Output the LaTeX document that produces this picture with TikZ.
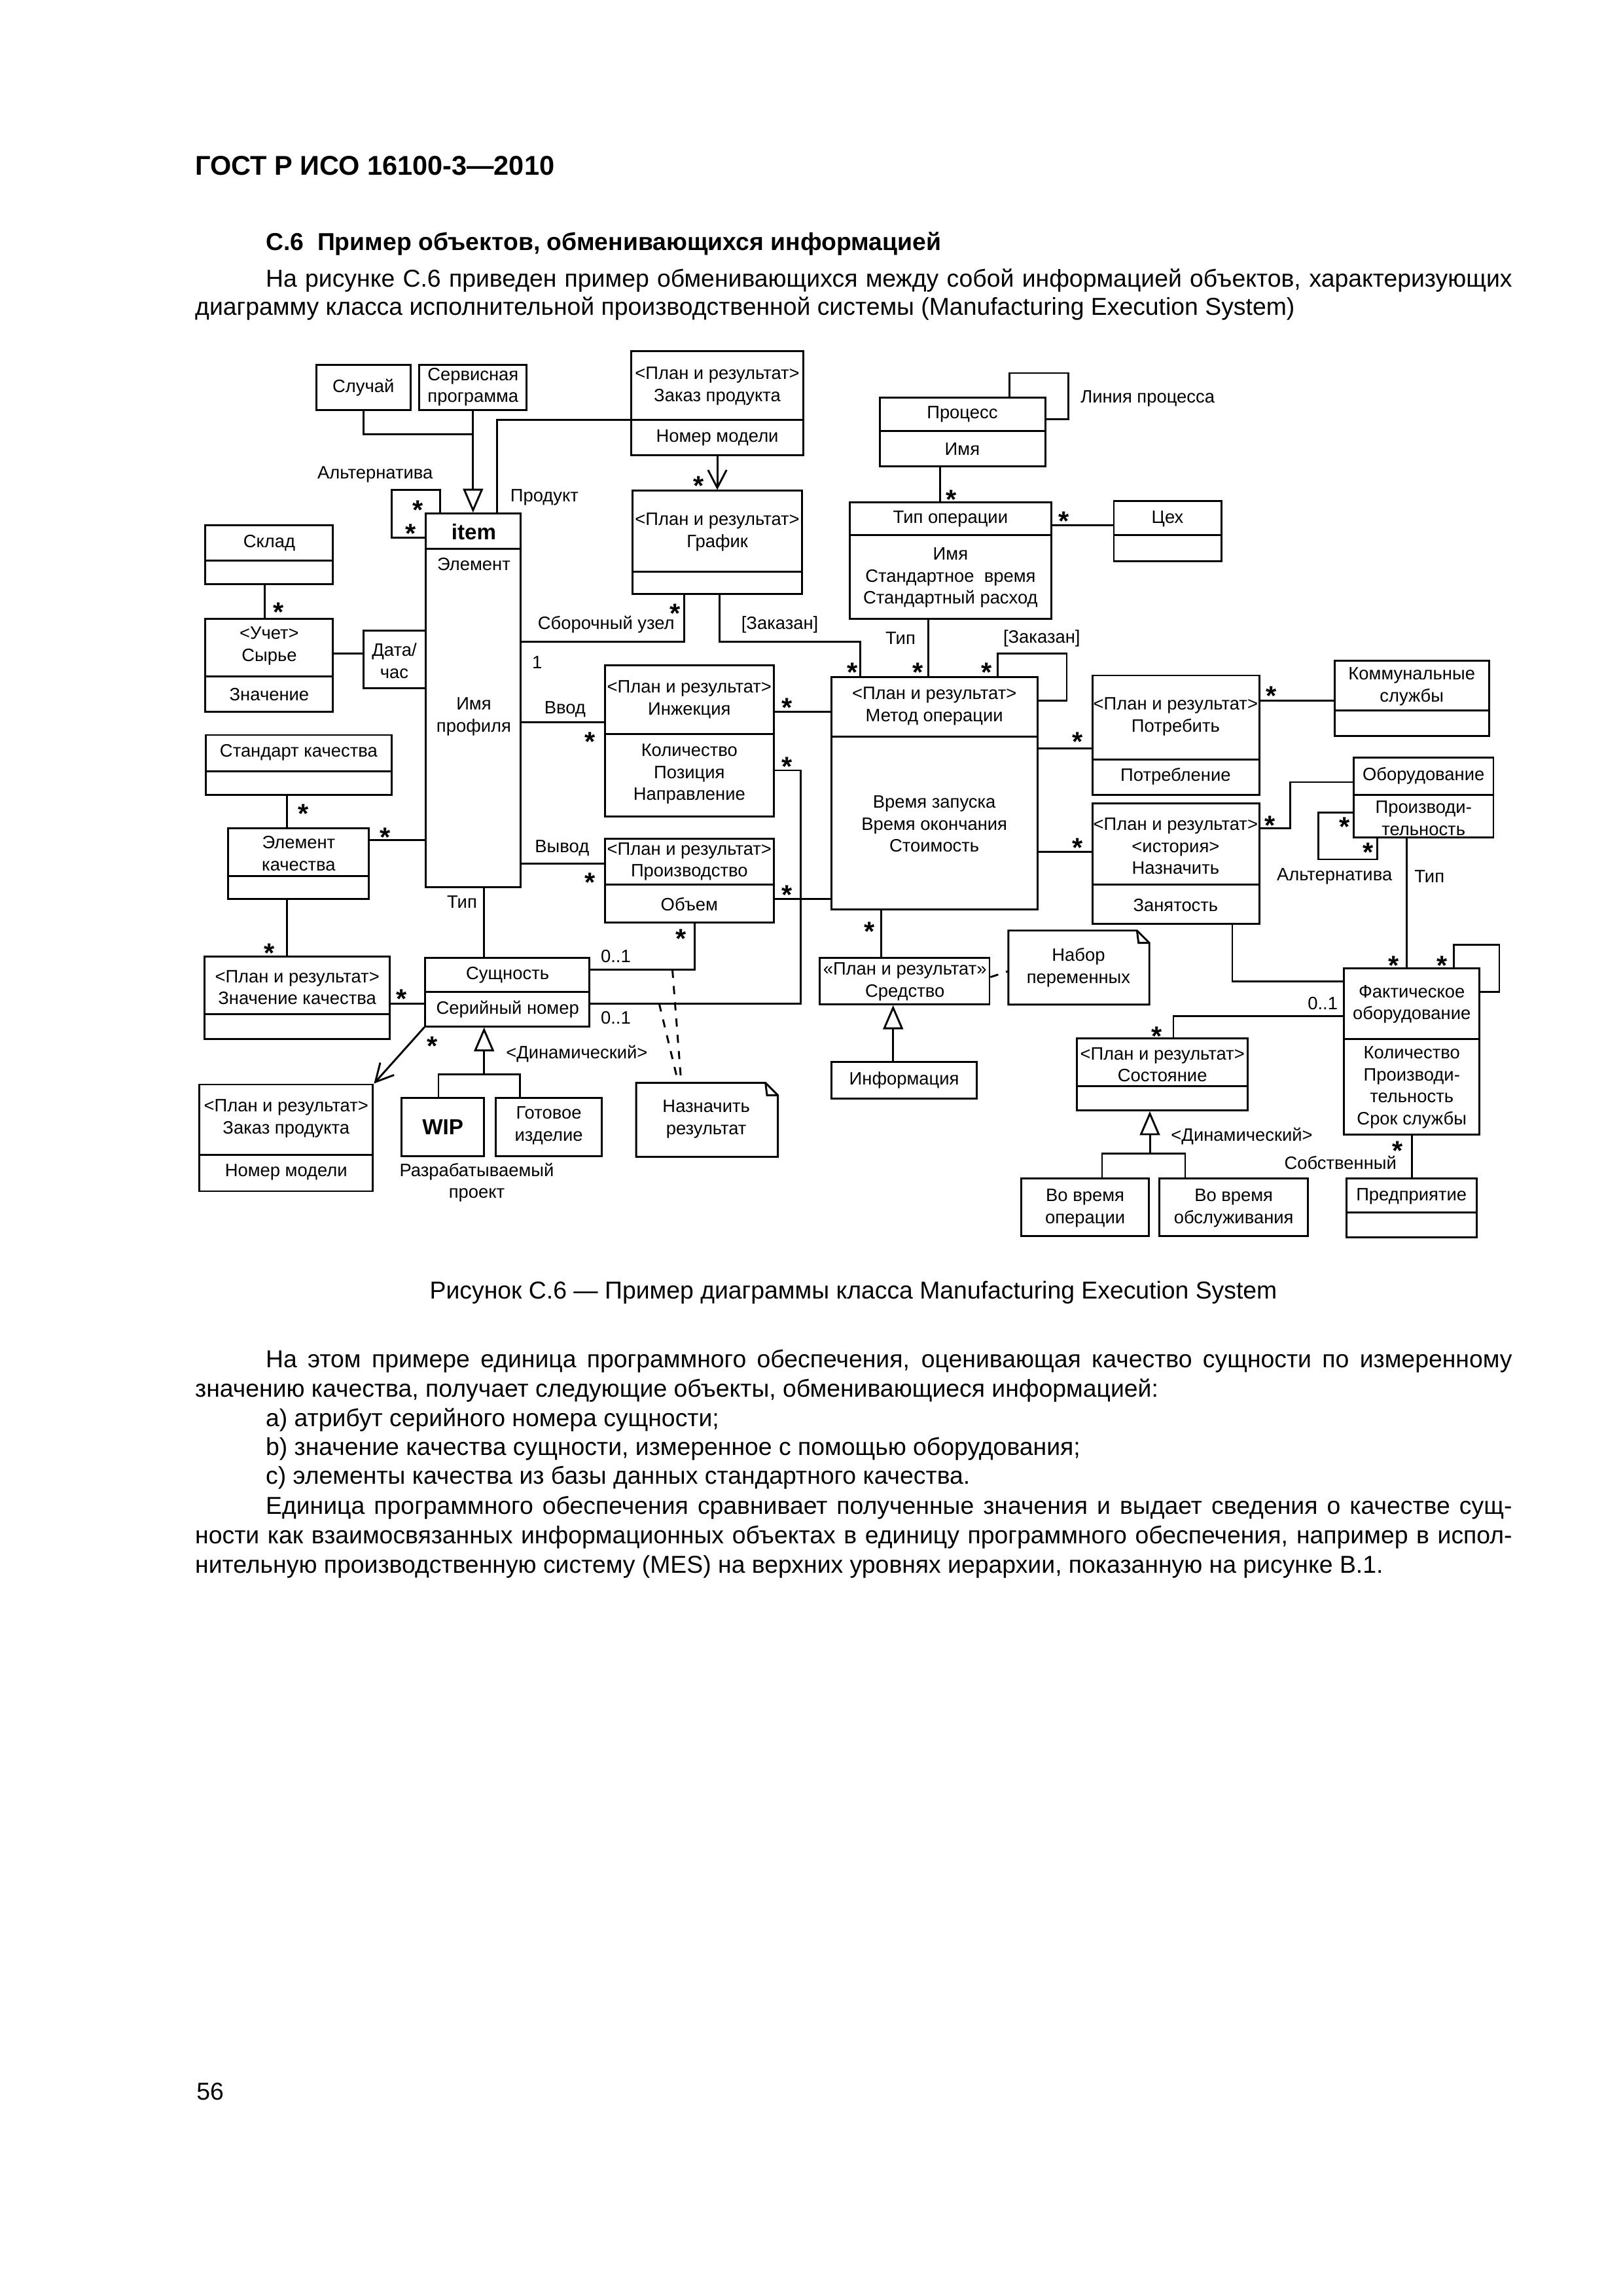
\documentclass[tikz,border=0pt]{standalone}
\usepackage{fontspec}
\setmainfont{Liberation Sans}
\usetikzlibrary{arrows.meta,fit}
\newcommand{\dfont}{\fontsize{6.6}{8.1}\selectfont}
\newcommand{\mfont}{\fontsize{10}{10}\selectfont\bfseries}
\newcommand{\pfont}{\fontsize{9}{11}\selectfont}
\newcommand{\mstar}{\raisebox{-0.42em}[0.28em][0pt]{*}}

\begin{document}
\begin{tikzpicture}[x=0.19039mm,y=-0.19039mm,
            line width=0.7pt,
            box/.style={draw,inner sep=0pt},
            txt/.style={font=\dfont,inner sep=0pt,align=center},
            mult/.style={font=\mfont,inner sep=0pt},
            gen/.style={-{Triangle[open,length=3.1mm,width=2.6mm]}},
            nav/.style={-{Straight Barb[length=2.3mm,width=2.4mm]}},
            pg/.style={font=\pfont,inner sep=0pt,anchor=base west}
            ]
\useasboundingbox (0,0) rectangle (1103,1560.3);

\node[pg,font=\fontsize{10}{12}\selectfont\bfseries] (gost) at (132,119) {ГОСТ Р ИСО 16100-3—2010};
\node[pg,font=\pfont\bfseries] (sec) at (180,170) {С.6\ \ Пример объектов, обменивающихся информацией};
\node[pg] (p1) at (180,195) {\makebox[161.26mm][s]{На рисунке С.6 приведен пример обменивающихся между собой информацией объектов, характеризующих}};
\node[pg] (p2) at (132,214) {диаграмму класса исполнительной производственной системы (Manufacturing Execution System)};

\node[box,fit={(215,248) (279,278.5)}] (sluchaj) {};
\node[txt] (sluchaj-t) at (247,263.5) {Случай};
\node[box,fit={(285,248) (358,278.5)}] (servis) {};
\node[txt] (servis-t) at (321.5,263) {Сервисная\\программа};

\node[box,fit={(429,238.5) (546,309.5)}] (zakaz) {};
\draw (zakaz.west |- 0,285.5) -- (zakaz.east |- 0,285.5);
\node[txt] (zakaz-t) at (487.5,262.5) {<План и результат>\\Заказ продукта};
\node[txt] (zakaz-a) at (487.5,297.5) {Номер модели};

\node[box,fit={(430,333.5) (545,403.5)}] (grafik) {};
\draw (grafik.west |- 0,388.5) -- (grafik.east |- 0,388.5);
\node[txt] (grafik-t) at (487.5,361.5) {<План и результат>\\График};

\node[box,fit={(289.5,349) (354,603)}] (item) {};
\draw (item.west |- 0,373) -- (item.east |- 0,373);
\node[txt,font=\fontsize{8}{9}\selectfont\bfseries] (item-t) at (322,361.5) {item};
\node[txt] (item-a) at (322,383.5) {Элемент};
\node[txt] (item-b) at (322,487) {Имя\\профиля};

\node[box,fit={(139.5,357) (226,397)}] (sklad) {};
\draw (sklad.west |- 0,381) -- (sklad.east |- 0,381);
\node[txt] (sklad-t) at (183,369) {Склад};
\node[box,fit={(139.5,420.5) (226,483.5)}] (uchet) {};
\draw (uchet.west |- 0,459.5) -- (uchet.east |- 0,459.5);
\node[txt] (uchet-t) at (183,439) {<Учет>\\Сырье};
\node[txt] (uchet-a) at (183,472) {Значение};
\node[box,fit={(247,428.5) (289.5,467.5)}] (datach) {};
\node[txt] (datach-t) at (268,449) {Дата/\\час};

\node[box,fit={(140,499.5) (266,540)}] (stdkach) {};
\draw (stdkach.west |- 0,524) -- (stdkach.east |- 0,524);
\node[txt] (stdkach-t) at (203,511.5) {Стандарт качества};
\node[box,fit={(155,563) (250.5,611)}] (elkach) {};
\draw (elkach.west |- 0,595.5) -- (elkach.east |- 0,595.5);
\node[txt] (elkach-t) at (203,580) {Элемент\\качества};
\node[box,fit={(139,650) (265,706)}] (znkach) {};
\draw (znkach.west |- 0,689) -- (znkach.east |- 0,689);
\node[txt] (znkach-t) at (202,671) {<План и результат>\\Значение качества};
\node[box,fit={(135.5,737) (253.5,809.5)}] (zakaz2) {};
\draw (zakaz2.west |- 0,785) -- (zakaz2.east |- 0,785);
\node[txt] (zakaz2-t) at (194.5,760) {<План и результат>\\Заказ продукта};
\node[txt] (zakaz2-a) at (194.5,796.5) {Номер модели};

\node[box,fit={(289,651) (400.5,697.5)}] (sushch) {};
\draw (sushch.west |- 0,674) -- (sushch.east |- 0,674);
\node[txt] (sushch-t) at (345,662.5) {Сущность};
\node[txt] (sushch-a) at (345,686) {Серийный номер};
\node[box,fit={(273,746) (329,785.5)}] (wip) {};
\node[txt,font=\fontsize{8}{9}\selectfont\bfseries] (wip-t) at (301,766) {WIP};
\node[box,fit={(337,746) (409,785.5)}] (gotov) {};
\node[txt] (gotov-t) at (373,765) {Готовое\\изделие};
\node[txt] (razr) at (324,803.5) {Разрабатываемый\\проект};

\node[inner sep=0pt,fit={(433,736.5) (528,785.5)}] (nazres) {};
\draw (nazres.north west) -- ([xshift=-1.6mm]nazres.north east) -- ([yshift=-1.6mm]nazres.north east) -- (nazres.south east) -- (nazres.south west) -- cycle;
\draw ([xshift=-1.6mm]nazres.north east) -- ([xshift=-1.4mm,yshift=-1.6mm]nazres.north east) -- ([yshift=-1.6mm]nazres.north east);
\node[txt] (nazres-t) at (480,760.5) {Назначить\\результат};

\node[box,fit={(411,452) (526,555)}] (inj) {};
\draw (inj.west |- 0,499) -- (inj.east |- 0,499);
\node[txt] (inj-t) at (468.5,475.5) {<План и результат>\\Инжекция};
\node[txt] (inj-a) at (468.5,526) {Количество\\Позиция\\Направление};
\node[box,fit={(411,570) (526,627)}] (proizv) {};
\draw (proizv.west |- 0,601) -- (proizv.east |- 0,601);
\node[txt] (proizv-t) at (468.5,585.5) {<План и результат>\\Производство};
\node[txt] (proizv-a) at (468.5,614.5) {Объем};

\node[box,fit={(598,270) (710.5,317)}] (protsess) {};
\draw (protsess.west |- 0,293) -- (protsess.east |- 0,293);
\node[txt] (protsess-t) at (654,281.5) {Процесс};
\node[txt] (protsess-a) at (654,305) {Имя};
\node[box,fit={(577.5,341.5) (714.5,420.5)}] (tipop) {};
\draw (tipop.west |- 0,363.5) -- (tipop.east |- 0,363.5);
\node[txt] (tipop-t) at (646,352.5) {Тип операции};
\node[txt] (tipop-a) at (646,392.5) {Имя\\Стандартное\ \ время\\Стандартный расход};
\node[box,fit={(757,340.5) (830,381.5)}] (tsekh) {};
\draw (tsekh.west |- 0,363.5) -- (tsekh.east |- 0,363.5);
\node[txt] (tsekh-t) at (793.5,352.5) {Цех};

\node[box,fit={(565,460) (705,618)}] (metod) {};
\draw (metod.west |- 0,500.5) -- (metod.east |- 0,500.5);
\node[txt] (metod-t) at (635,480) {<План и результат>\\Метод операции};
\node[txt] (metod-a) at (635,560) {Время запуска\\Время окончания\\Стоимость};
\node[box,fit={(557,651) (672.5,682.5)}] (sredstvo) {};
\node[txt] (sredstvo-t) at (615,667) {«План и результат»\\Средство};
\node[box,fit={(565,721.5) (664,746.5)}] (info) {};
\node[txt] (info-t) at (614.5,734) {Информация};

\node[inner sep=0pt,fit={(686,633) (780.5,682)}] (nabor) {};
\draw (nabor.north west) -- ([xshift=-1.6mm]nabor.north east) -- ([yshift=-1.6mm]nabor.north east) -- (nabor.south east) -- (nabor.south west) -- cycle;
\draw ([xshift=-1.6mm]nabor.north east) -- ([xshift=-1.4mm,yshift=-1.6mm]nabor.north east) -- ([yshift=-1.6mm]nabor.north east);
\node[txt] (nabor-t) at (733,657.5) {Набор\\переменных};

\node[box,fit={(742.5,459) (856,540)}] (potr) {};
\draw (potr.west |- 0,516) -- (potr.east |- 0,516);
\node[txt] (potr-t) at (799,487) {<План и результат>\\Потребить};
\node[txt] (potr-a) at (799,527.5) {Потребление};
\node[box,fit={(907,449) (1012,500)}] (komm) {};
\draw (komm.west |- 0,483) -- (komm.east |- 0,483);
\node[txt] (komm-t) at (959.5,466.5) {Коммунальные\\службы};
\node[box,fit={(742.5,546) (856,628)}] (naz) {};
\draw (naz.west |- 0,601) -- (naz.east |- 0,601);
\node[txt] (naz-t) at (799,575) {<План и результат>\\<история>\\Назначить};
\node[txt] (naz-a) at (799,615) {Занятость};
\node[box,fit={(920,515) (1015,569)}] (obor) {};
\draw (obor.west |- 0,540) -- (obor.east |- 0,540);
\node[txt] (obor-t) at (967.5,527) {Оборудование};
\node[txt] (obor-a) at (967.5,556) {Производи-\\тельность};

\node[box,fit={(913.5,658) (1005.5,771)}] (fakt) {};
\draw (fakt.west |- 0,706) -- (fakt.east |- 0,706);
\node[txt] (fakt-t) at (959.5,682.5) {Фактическое\\оборудование};
\node[txt] (fakt-a) at (959.5,739) {Количество\\Производи-\\тельность\\Срок службы};
\node[box,fit={(732,705.5) (848,754.5)}] (sost) {};
\draw (sost.west |- 0,738) -- (sost.east |- 0,738);
\node[txt] (sost-t) at (790,723.5) {<План и результат>\\Состояние};
\node[box,fit={(694,801) (781,840)}] (vovr1) {};
\node[txt] (vovr1-t) at (737.5,821) {Во время\\операции};
\node[box,fit={(788,801) (889,840)}] (vovr2) {};
\node[txt] (vovr2-t) at (838.5,821) {Во время\\обслуживания};
\node[box,fit={(915,801) (1003.5,841)}] (predp) {};
\draw (predp.west |- 0,824) -- (predp.east |- 0,824);
\node[txt] (predp-t) at (959.25,813) {Предприятие};

\draw (sluchaj.south) |- (servis.south |- 0,295);
\draw[gen] (servis.south) -- (servis.south |- item.north);
\draw (zakaz.west |- 0,285.5) -| (item.north -| 338,0);
\draw (item.north -| 299,0) |- (266,333) |- (item.west |- 0,365.5);
\draw[nav] (zakaz.south) -- (grafik.north);
\draw (grafik.south -| 465,0) |- (item.east |- 0,436);
\draw (grafik.south -| 489,0) |- (584.5,436) -- (metod.north -| 584.5,0);
\draw (sklad.south -| 180,0) -- (uchet.north -| 180,0);
\draw (uchet.east |- 0,444) -- (datach.west |- 0,444);
\draw (item.east |- 0,491) -- (inj.west |- 0,491);
\draw (item.east |- 0,587) -- (proizv.west |- 0,587);
\draw (inj.east |- 0,483.5) -- (metod.west |- 0,483.5);
\draw (inj.east |- 0,523.5) -| (544,682) -- (sushch.east |- 0,682);
\draw (proizv.east |- 0,611) -- (metod.west |- 0,611);
\draw (proizv.south -| 472,0) |- (sushch.east |- 0,659);
\draw (stdkach.south -| 195,0) -- (elkach.north -| 195,0);
\draw (elkach.east |- 0,571) -- (item.west |- 0,571);
\draw (elkach.south -| 195,0) -- (znkach.north -| 195,0);
\draw (znkach.east |- 0,682) -- (sushch.west |- 0,682);
\draw (item.south -| 329,0) -- (sushch.north -| 329,0);
\draw[nav] (sushch.south west) -- (zakaz2.north east);
\draw[gen] (329,730) -- (sushch.south -| 329,0);
\draw (wip.north -| 298,0) |- (329,730) -| (gotov.north -| 353.5,0);
\coordinate (d1) at (457,659);
\coordinate (d2) at (448,682);
\draw[dashed] (d1) -- (nazres.north -| 463,0);
\draw[dashed] (d2) -- (nazres.north -| 461,0);
\draw (protsess.north -| 686,0) |- (726,253.5) |- (protsess.east |- 0,285);
\draw (protsess.south -| 639,0) -- (tipop.north -| 639,0);
\draw (tipop.east |- 0,357) -- (tsekh.west |- 0,357);
\draw (tipop.south -| 631,0) -- (metod.north -| 631,0);
\draw (metod.north -| 678,0) |- (725,444) |- (metod.east |- 0,476);
\draw (metod.east |- 0,508.5) -- (potr.west |- 0,508.5);
\draw (metod.east |- 0,579) -- (naz.west |- 0,579);
\draw (potr.east |- 0,476) -- (komm.west |- 0,476);
\draw (naz.east |- 0,563) -| (877,531.5) -- (obor.west |- 0,531.5);
\draw (obor.west |- 0,552) -| (896,584) -| (obor.south -| 936,0);
\draw (obor.south -| 956,0) -- (fakt.north -| 956,0);
\draw (fakt.north -| 988,0) |- (1019,642) |- (fakt.east |- 0,674);
\draw (naz.south -| 837.5,0) |- (fakt.west |- 0,667);
\draw (fakt.west |- 0,690.5) -| (sost.north -| 797.5,0);
\draw[gen] (781.5,784) -- (sost.south -| 781.5,0);
\draw (vovr1.north -| 749,0) |- (781.5,784) -| (vovr2.north -| 805.5,0);
\draw (fakt.south -| 959.5,0) -- (predp.north -| 959.5,0);
\draw (metod.south -| 599,0) -- (sredstvo.north -| 599,0);
\draw[gen] (info.north -| 607,0) -- (sredstvo.south -| 607,0);
\draw[dashed] (sredstvo.east |- 0,664) -- (nabor.west |- 0,660);

\node[txt] (alt1) at (255,322.5) {Альтернатива};
\node[txt] (prod) at (370,338) {Продукт};
\node[txt] (sbor) at (412,424.5) {Сборочный узел};
\node[txt] (one) at (365,450) {1};
\node[txt] (zak1) at (530,424.5) {[Заказан]};
\node[txt] (linproc) at (780,271) {Линия процесса};
\node[txt] (tip1) at (612,433.5) {Тип};
\node[txt] (zak2) at (708,434) {[Заказан]};
\node[txt] (vvod) at (384,482) {Ввод};
\node[txt] (vyvod) at (382,576.5) {Вывод};
\node[txt] (tip2) at (314,613) {Тип};
\node[txt] (opt1) at (418.5,650) {0..1};
\node[txt] (opt2) at (418.5,691.5) {0..1};
\node[txt] (dyn1) at (392,716) {<Динамический>};
\node[txt] (dyn2) at (844,772) {<Динамический>};
\node[txt] (alt2) at (907,595.5) {Альтернатива};
\node[txt] (tip3) at (971.5,595.5) {Тип};
\node[txt] (opt3) at (899,682) {0..1};
\node[txt] (sobst) at (911,790) {Собственный};

\foreach \p [count=\i] in {(284,342.5),(279,358.5),(189.5,412),(475,326),(459,413),
    (579.5,453),(624,453),(670.5,453),(646.5,335.5),(723,350),(401,500),(535,477),
    (535,517),(401,595.5),(535,604),(463,634),(206,549),(262,565),(183,643.5),
    (273,675),(294,707),(591,629),(732.5,500),(732.5,572),(864,469),(863,557),
    (914,558),(930,575),(947,652),(980,652),(786,700),(950,778)}
    \node[mult] (m\i) at \p {\mstar};

\node[pg,anchor=base] (cap) at (580,882.5) {Рисунок С.6 — Пример диаграммы класса Manufacturing Execution System};
\node[pg] (l1) at (180,929.5) {\makebox[161.26mm][s]{На этом примере единица программного обеспечения, оценивающая качество сущности по измеренному}};
\node[pg] (l2) at (132,949.5) {значению качества, получает следующие объекты, обменивающиеся информацией:};
\node[pg] (l3) at (180,969.5) {a) атрибут серийного номера сущности;};
\node[pg] (l4) at (180,989) {b) значение качества сущности, измеренное с помощью оборудования;};
\node[pg] (l5) at (180,1008.5) {c) элементы качества из базы данных стандартного качества.};
\node[pg] (l6) at (180,1029) {\makebox[161.26mm][s]{Единица программного обеспечения сравнивает полученные значения и выдает сведения о качестве сущ-}};
\node[pg] (l7) at (132,1049) {\makebox[170.4mm][s]{ности как взаимосвязанных информационных объектах в единицу программного обеспечения, например в испол-}};
\node[pg] (l8) at (132,1069) {нительную производственную систему (MES) на верхних уровнях иерархии, показанную на рисунке В.1.};
\node[pg] (pnum) at (133,1427) {56};
\end{tikzpicture}
\end{document}
